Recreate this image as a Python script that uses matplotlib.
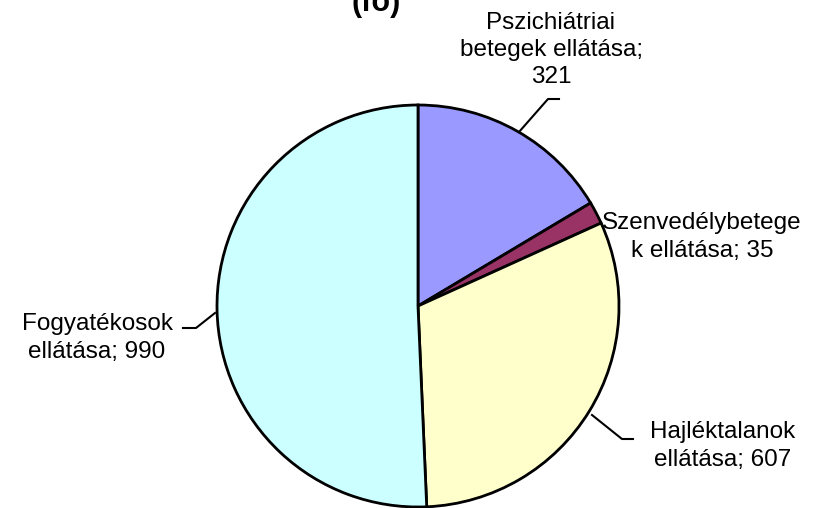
import matplotlib
matplotlib.use("Agg")
import matplotlib.pyplot as plt

plt.rcParams['font.family'] = ['Liberation Sans', 'DejaVu Sans']

# data
labels = ["Pszichiátriai\nbetegek ellátása;\n321",
          "Szenvedélybetege\nk ellátása; 35",
          "Hajléktalanok\nellátása; 607",
          "Fogyatékosok\nellátása; 990"]
values = [321, 35, 607, 990]
colors = ["#9999FF", "#993366", "#FFFFCC", "#CCFFFF"]

W, H = 826, 508
fig = plt.figure(figsize=(W / 100, H / 100), dpi=100)
ax = fig.add_axes([0, 0, 1, 1])
ax.set_xlim(0, W)
ax.set_ylim(0, H)
ax.set_aspect('equal')
ax.axis('off')

cx, cy, r = 418, H - 306, 201
wedges, _ = ax.pie(values, colors=colors, startangle=90, counterclock=False,
                   center=(cx, cy), radius=r,
                   wedgeprops=dict(edgecolor='black', linewidth=2))
ax.set_xlim(0, W)
ax.set_ylim(0, H)

# title, mostly cut off at top (as in the original)
ax.text(376, H - 11, "(fő)", ha='center', va='baseline', fontsize=22,
        fontweight='bold')

# label positions (pixel coords, y from top)
label_pos = [(551, 50), (702, 237), (723, 446), (97, 338)]
for lab, (x, y) in zip(labels, label_pos):
    ax.text(x, H - y, lab, ha='center', va='center', fontsize=17.5,
            linespacing=1.32)

# leader lines
leaders = [
    [(519, 132), (548, 99), (559, 99)],
    [(592, 415), (622, 439), (633, 439)],
    [(215, 313), (196, 328), (183, 328)],
]
for pts in leaders:
    ax.plot([p[0] for p in pts], [H - p[1] for p in pts], color='black',
            linewidth=1.5)

fig.savefig("out.png", dpi=100)
